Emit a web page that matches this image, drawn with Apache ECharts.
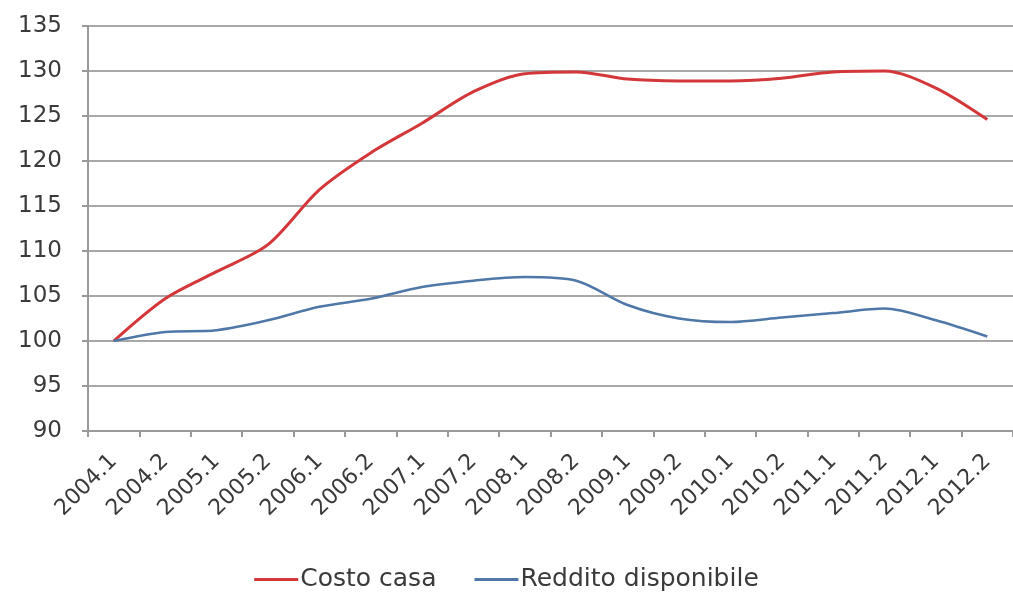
<!DOCTYPE html>
<html><head><meta charset="utf-8">
<script src="https://cdn.jsdelivr.net/npm/echarts@6/dist/echarts.min.js"></script>
<style>html,body{margin:0;padding:0;background:#fff}#c{width:1013px;height:602px}</style>
</head><body><div id="c"></div>
<script>
const categories = ['2004.1','2004.2','2005.1','2005.2','2006.1','2006.2','2007.1','2007.2','2008.1','2008.2','2009.1','2009.2','2010.1','2010.2','2011.1','2011.2','2012.1','2012.2'];
const costoCasa = [100, 104.7, 107.7, 110.7, 116.8, 120.9, 124.2, 127.7, 129.7, 129.9, 129.1, 128.9, 128.9, 129.2, 129.9, 130.0, 128.1, 124.6];
const redditoDisponibile = [100, 101.0, 101.2, 102.3, 103.8, 104.7, 106.0, 106.7, 107.1, 106.7, 104.0, 102.5, 102.1, 102.6, 103.1, 103.6, 102.3, 100.5];
const seriesNames = ['Costo casa', 'Reddito disponibile'];

const chart = echarts.init(document.getElementById('c'));
const font = 'DejaVu Sans, sans-serif';
chart.setOption({
  animation: false,
  grid: { left: 88, right: -11, top: 26, bottom: 171, containLabel: false },
  xAxis: {
    type: 'category', data: categories, boundaryGap: true,
    axisLine: { lineStyle: { color: '#9a9a9a', width: 2 } },
    axisTick: { show: true, length: 6, lineStyle: { color: '#9a9a9a', width: 2 } },
    axisLabel: { rotate: 45, interval: 0, margin: 27, color: '#3a3a3a', fontSize: 22, fontFamily: font }
  },
  yAxis: {
    type: 'value', min: 90, max: 135, interval: 5,
    axisLine: { show: true, lineStyle: { color: '#9a9a9a', width: 2 } },
    axisTick: { show: true, length: 6, lineStyle: { color: '#9a9a9a', width: 2 } },
    splitLine: { lineStyle: { color: '#a8a8a8', width: 2 } },
    axisLabel: { color: '#3a3a3a', fontSize: 23, fontFamily: font, margin: 26 }
  },
  legend: {
    bottom: 5, left: 'center', itemGap: 38, itemWidth: 44, itemHeight: 3, icon: 'rect',
    textStyle: { color: '#3a3a3a', fontSize: 25, fontFamily: font, padding: [0,0,0,-3] },
    data: seriesNames
  },
  series: [
    { name: seriesNames[0], type: 'line', data: costoCasa, smooth: 0.3, showSymbol: false,
      lineStyle: { color: '#d4373a', width: 3 }, itemStyle: { color: '#d4373a' } },
    { name: seriesNames[1], type: 'line', data: redditoDisponibile, smooth: 0.3, showSymbol: false,
      lineStyle: { color: '#4f77a8', width: 2.5 }, itemStyle: { color: '#4f77a8' } }
  ]
});
</script></body></html>
